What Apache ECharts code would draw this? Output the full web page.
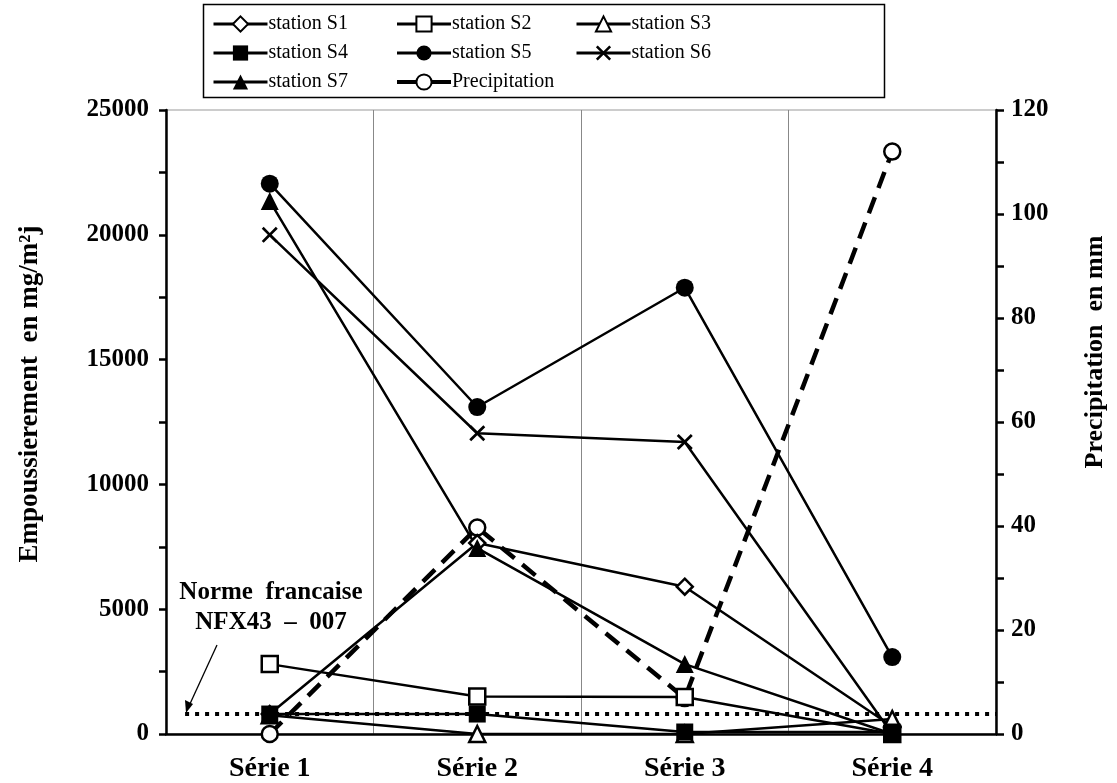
<!DOCTYPE html>
<html>
<head>
<meta charset="utf-8">
<script src="https://cdn.jsdelivr.net/npm/echarts@6/dist/echarts.min.js"></script>
<style>
  html, body { margin: 0; padding: 0; background: #fff; }
  #chart { width: 1117px; height: 783px; }
</style>
</head>
<body>
<div id="chart"></div>
<script>
// Dust deposition per station (mg/m²j) over four measurement series, plus rainfall (mm)
const categories = ['Série 1', 'Série 2', 'Série 3', 'Série 4'];
const stationS1 = [800, 7650, 5900, 300];
const stationS2 = [2800, 1500, 1480, 0];
const stationS3 = [750, 0, 0, 600];
const stationS4 = [800, 800, 80, 80];
const stationS5 = [22050, 13100, 17880, 3080];
const stationS6 = [20000, 12050, 11700, 0];
const stationS7 = [21350, 7450, 2800, 0];
const precipitation = [0, 39.7, 6.9, 112];
const normValue = 800;          // NFX43-007 threshold
const normSpan = [2.3, 100];    // horizontal extent, percent of plot width
const leftTicks = { min: 0, max: 25000, interval: 5000 };
const rightTicks = { min: 0, max: 120, interval: 20 };

const SERIF = '"Liberation Serif", "DejaVu Serif", serif';
const CROSS = 'path://M0,1.2L1.2,0L5,3.8L8.8,0L10,1.2L6.2,5L10,8.8L8.8,10L5,6.2L1.2,10L0,8.8L3.8,5Z';

function station(name, data, symbol, filled, size) {
  return {
    name, type: 'line', data, symbol, symbolSize: size,
    xAxisIndex: 0, yAxisIndex: 0,
    lineStyle: { color: '#000', width: 2.5 },
    itemStyle: { color: filled ? '#000' : '#fff', borderColor: '#000', borderWidth: filled ? 0 : 2.5 },
    z: 3
  };
}

const chart = echarts.init(document.getElementById('chart'), null, { renderer: 'canvas' });

const legendBase = {
  orient: 'vertical', top: 9, itemWidth: 54, itemHeight: 19, itemGap: 9,
  lineStyle: { width: 3 },
  textStyle: { fontFamily: SERIF, fontSize: 20, color: '#000', padding: [0, 0, 0, -4] }
};

const tickLabel = { fontFamily: SERIF, fontSize: 25, fontWeight: 'bold', color: '#000', formatter: v => String(v) };
const titleStyle = { fontFamily: SERIF, fontSize: 27, fontWeight: 'bold', fill: '#000', textAlign: 'center', textVerticalAlign: 'middle' };

chart.setOption({
  animation: false,
  backgroundColor: '#fff',
  grid: { left: 166, right: 121, top: 110, bottom: 48, show: true, borderColor: '#999', borderWidth: 1 },
  legend: [
    Object.assign({}, legendBase, { left: 207, data: ['station S1', 'station S4', 'station S7'] }),
    Object.assign({}, legendBase, { left: 390, data: ['station S2', 'station S5',
      { name: 'Precipitation', lineStyle: { type: 'solid', width: 4 } }] }),
    Object.assign({}, legendBase, { left: 570, data: ['station S3', 'station S6'] })
  ],
  xAxis: [
    {
      type: 'category', data: categories, boundaryGap: true,
      axisLine: { lineStyle: { color: '#000', width: 2.5 } },
      axisTick: { show: false },
      axisLabel: { fontFamily: SERIF, fontSize: 28, fontWeight: 'bold', color: '#000', margin: 21 },
      splitLine: { show: true, lineStyle: { color: '#888', width: 1 } }
    },
    { type: 'value', min: 0, max: 100, show: false }
  ],
  yAxis: [
    {
      type: 'value', min: leftTicks.min, max: leftTicks.max, interval: leftTicks.interval,
      position: 'left',
      axisLine: { show: true, lineStyle: { color: '#000', width: 2.5 } },
      axisTick: { show: true, length: 7, lineStyle: { width: 2.5 } },
      minorTick: { show: true, splitNumber: 2, length: 7, lineStyle: { color: '#000', width: 2.5 } },
      splitLine: { show: false },
      axisLabel: Object.assign({ margin: 17 }, tickLabel)
    },
    {
      type: 'value', min: rightTicks.min, max: rightTicks.max, interval: rightTicks.interval,
      position: 'right',
      axisLine: { show: true, lineStyle: { color: '#000', width: 2.5 } },
      axisTick: { show: true, length: 8, lineStyle: { width: 2.5 } },
      minorTick: { show: true, splitNumber: 2, length: 8, lineStyle: { color: '#000', width: 2.5 } },
      splitLine: { show: false },
      axisLabel: Object.assign({ margin: 15 }, tickLabel)
    }
  ],
  series: [
    {
      name: 'norme', type: 'line', xAxisIndex: 1, yAxisIndex: 0, symbol: 'none',
      data: [[normSpan[0], normValue], [normSpan[1], normValue]],
      lineStyle: { color: '#000', width: 4, type: [4, 6] }, z: 1, silent: true
    },
    {
      name: 'Precipitation', type: 'line', data: precipitation, xAxisIndex: 0, yAxisIndex: 1,
      symbol: 'circle', symbolSize: 16,
      lineStyle: { color: '#000', width: 4.5, type: [17, 10] },
      itemStyle: { color: '#fff', borderColor: '#000', borderWidth: 2.5 }, z: 2
    },
    station('station S1', stationS1, 'diamond', false, 16),
    station('station S2', stationS2, 'rect', false, 16),
    station('station S3', stationS3, 'triangle', false, 16),
    station('station S4', stationS4, 'rect', true, 17),
    station('station S5', stationS5, 'circle', true, 18),
    station('station S6', stationS6, CROSS, true, 16),
    station('station S7', stationS7, 'triangle', true, 18)
  ],
  graphic: [
    { type: 'rect', left: 201, top: 2, shape: { width: 681, height: 93 },
      style: { fill: 'none', stroke: '#000', lineWidth: 1.5 }, silent: true },
    { type: 'text', x: 30, y: 394, rotation: Math.PI / 2,
      style: Object.assign({ text: 'Empoussierement  en mg/m²j' }, titleStyle) },
    { type: 'text', x: 1095, y: 352, rotation: Math.PI / 2,
      style: Object.assign({ text: 'Precipitation  en mm' }, titleStyle, { fontSize: 26 }) },
    { type: 'text', x: 271, y: 593,
      style: { text: 'Norme  francaise', fontFamily: SERIF, fontSize: 25, fontWeight: 'bold', fill: '#000',
               textAlign: 'center', textVerticalAlign: 'middle' } },
    { type: 'text', x: 271, y: 623,
      style: { text: 'NFX43  –  007', fontFamily: SERIF, fontSize: 25, fontWeight: 'bold', fill: '#000',
               textAlign: 'center', textVerticalAlign: 'middle' } },
    { type: 'line', shape: { x1: 217, y1: 645, x2: 189, y2: 706 },
      style: { stroke: '#000', lineWidth: 1.3 } },
    { type: 'polygon', shape: { points: [[186, 713], [185, 700], [193, 704]] },
      style: { fill: '#000' } }
  ]
});
</script>
</body>
</html>
